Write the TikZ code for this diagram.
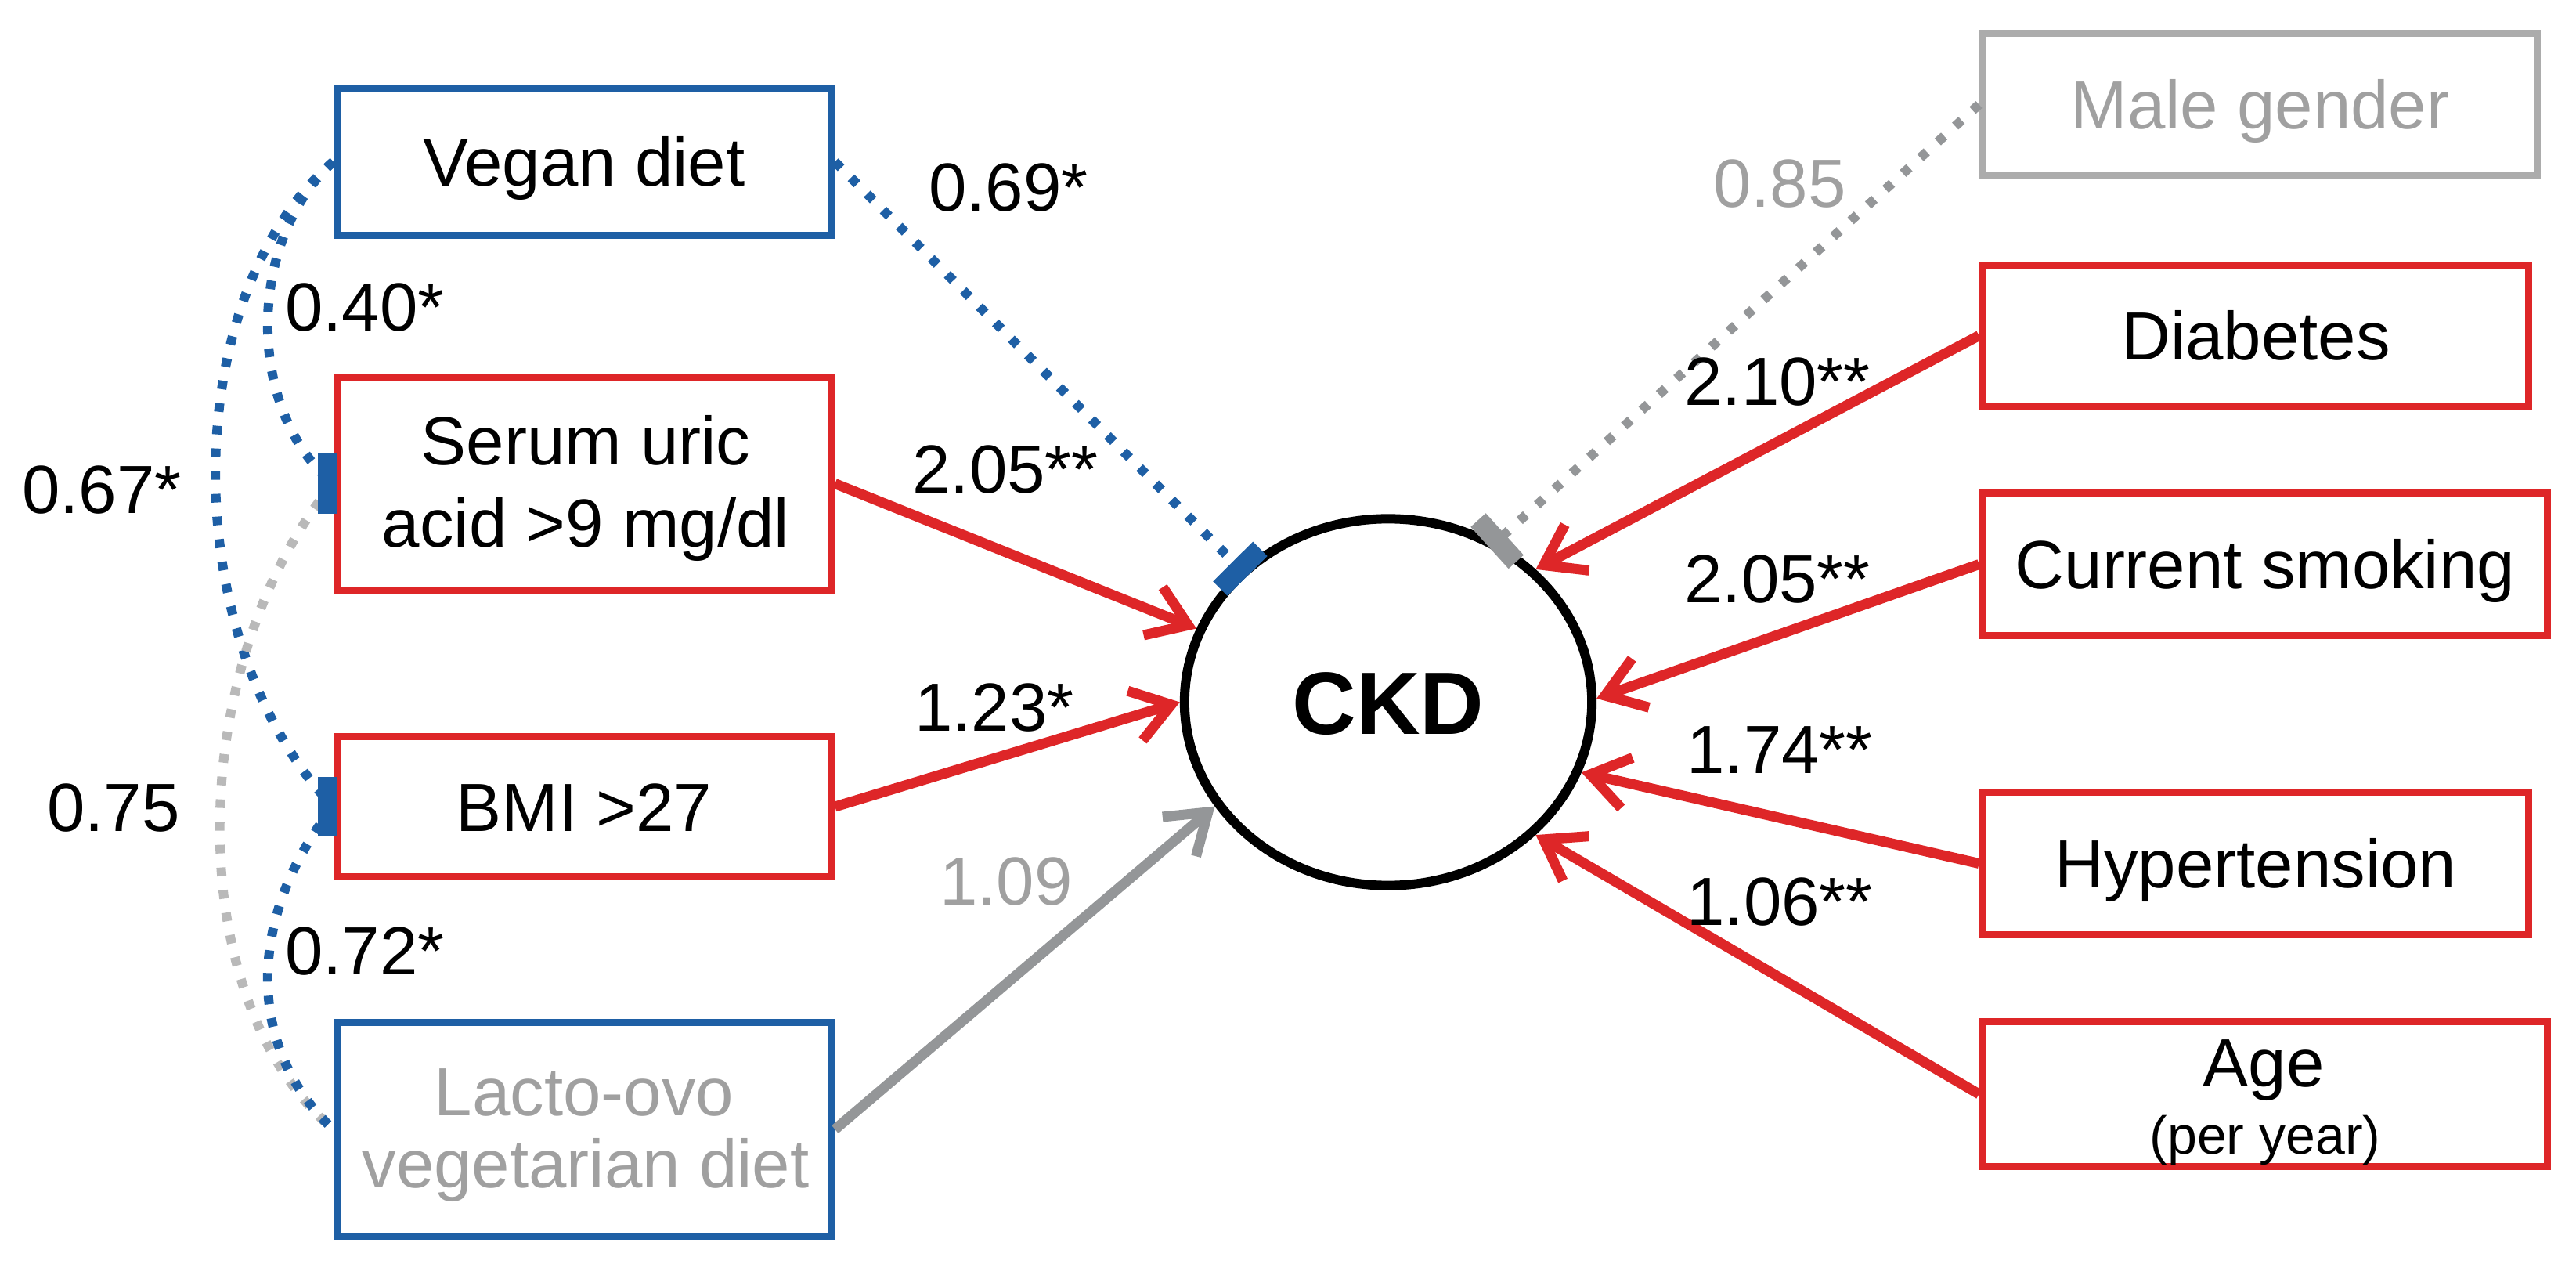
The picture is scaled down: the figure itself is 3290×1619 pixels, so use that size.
\documentclass[tikz,border=0pt]{standalone}
\usepackage{fontspec}
\setmainfont{Liberation Sans}
\usetikzlibrary{arrows.meta,shapes.geometric}
\definecolor{cblue}{RGB}{30,95,165}
\definecolor{cred}{RGB}{222,38,40}
\definecolor{cgrayline}{RGB}{148,150,152}
\definecolor{cgraylight}{RGB}{185,185,185}
\definecolor{cgraybox}{RGB}{172,172,172}
\definecolor{cgraytext}{RGB}{160,160,160}
\begin{document}
\begin{tikzpicture}[x=0.01cm,y=-0.01cm,
  lbl/.style={font=\fontsize{24.75}{29}\selectfont, anchor=base, inner sep=0pt},
  boxbase/.style={draw, rectangle, line width=0.095cm, inner sep=0pt},
  bbox/.style={boxbase, draw=cblue},
  rbox/.style={boxbase, draw=cred},
  gbox/.style={boxbase, draw=cgraybox},
  onetext/.style={font=\fontsize{24.75}{29}\selectfont, text height=0.62cm, text depth=0pt},
  leftbox/.style={minimum width=6.31cm},
  bdot/.style={draw=cblue, line width=0.12cm, dash pattern=on 0.11cm off 0.18cm},
  gdot/.style={draw=cgrayline, line width=0.12cm, dash pattern=on 0.11cm off 0.19cm},
  ldot/.style={draw=cgraylight, line width=0.12cm, dash pattern=on 0.11cm off 0.18cm},
  bartip/.style={-{Rectangle[length=0.26cm,width=0.72cm]}, shorten >=-0.12cm},
  rarr/.style={draw=cred, line width=0.13cm, -{Straight Barb[length=0.48cm,width=0.66cm]}},
  garr/.style={draw=cgrayline, line width=0.13cm, -{Straight Barb[length=0.48cm,width=0.66cm]}},
  marker/.style={fill=cblue}
]
\useasboundingbox (0,0) rectangle (3290,1619);

% left boxes
\node[bbox, onetext, leftbox, minimum height=1.88cm] (vegan) at (746,206.5) {Vegan diet};
\node[rbox, leftbox, minimum height=2.72cm] (serum) at (746,617.5) {};
\node[lbl] (serumA) at (748,594) {Serum uric};
\node[lbl] (serumB) at (748,699) {acid >9 mg/dl};
\node[rbox, onetext, leftbox, minimum height=1.79cm] (bmi) at (746,1030) {BMI >27};
\node[bbox, leftbox, minimum height=2.73cm] (lacto) at (746,1442) {};
\node[lbl, text=cgraytext] (lactoA) at (746,1424) {Lacto-ovo};
\node[lbl, text=cgraytext] (lactoB) at (748,1516) {vegetarian diet};

% right boxes
\node[gbox, onetext, text=cgraytext, minimum width=7.08cm, minimum height=1.82cm] (male) at (2886.5,133.5) {Male gender};
\node[rbox, onetext, minimum width=6.97cm, minimum height=1.80cm] (diab) at (2881,428.5) {Diabetes};
\node[rbox, onetext, minimum width=7.21cm, minimum height=1.82cm] (smok) at (2893,720.5) {Current smoking};
\node[rbox, onetext, minimum width=6.97cm, minimum height=1.82cm] (hyp) at (2881,1102.5) {Hypertension};
\node[rbox, minimum width=7.21cm, minimum height=1.85cm] (age) at (2893,1397) {};
\node[lbl] (ageA) at (2891,1387) {Age};
\node[lbl, font=\fontsize{19.35}{23}\selectfont] (ageB) at (2893,1473) {(per year)};

% outcome
\node[ellipse, draw=black, line width=0.12cm, minimum width=5.2cm, minimum height=4.68cm,
      inner sep=0pt, font=\fontsize{32.15}{38}\selectfont\bfseries,
      text height=0.81cm, text depth=0pt] (ckd) at (1773,896.5) {CKD};

% correlations on the left
\draw[bdot] (vegan.west) .. controls (314,308) and (314,525) .. (serum.west);
\draw[bdot] (vegan.west) .. controls (225,380) and (225,820) .. (bmi.west);
\draw[ldot] (serum.west) .. controls (240,840) and (225,1270) .. (lacto.west);
\draw[bdot] (bmi.west) .. controls (314,1171) and (314,1338) .. (lacto.west);
\fill[marker] ([xshift=-0.2cm,yshift=-0.38cm]serum.west) rectangle ([xshift=0.04cm,yshift=0.38cm]serum.west);
\fill[marker] ([xshift=-0.2cm,yshift=-0.38cm]bmi.west) rectangle ([xshift=0.04cm,yshift=0.38cm]bmi.west);

% paths to CKD
\draw[bdot, bartip] (vegan.east) -- (ckd.138);
\draw[rarr] (serum.east) -- (ckd.159);
\draw[rarr] (bmi.east) -- (ckd.180);
\draw[garr] (lacto.east) -- (ckd.211);
\draw[gdot, bartip] (male.west) -- (ckd.56);
\draw[rarr] (diab.west) -- (ckd.42);
\draw[rarr] (smok.west) -- (ckd.1);
\draw[rarr] (hyp.west) -- (ckd.340);
\draw[rarr] (age.west) -- (ckd.318);

% coefficient labels
\node[lbl] (l040) at (466,423) {0.40*};
\node[lbl] (l067) at (130,656) {0.67*};
\node[lbl] (l075) at (145,1061) {0.75};
\node[lbl] (l072) at (466,1244) {0.72*};
\node[lbl] (l069) at (1288,270) {0.69*};
\node[lbl] (l205a) at (1284,630) {2.05**};
\node[lbl] (l123) at (1270,933) {1.23*};
\node[lbl, text=cgraytext] (l109) at (1285,1155) {1.09};
\node[lbl, text=cgraytext] (l085) at (2273,265) {0.85};
\node[lbl] (l210) at (2270,518) {2.10**};
\node[lbl] (l205b) at (2270,770) {2.05**};
\node[lbl] (l174) at (2273,988) {1.74**};
\node[lbl] (l106) at (2273,1181) {1.06**};
\end{tikzpicture}
\end{document}
